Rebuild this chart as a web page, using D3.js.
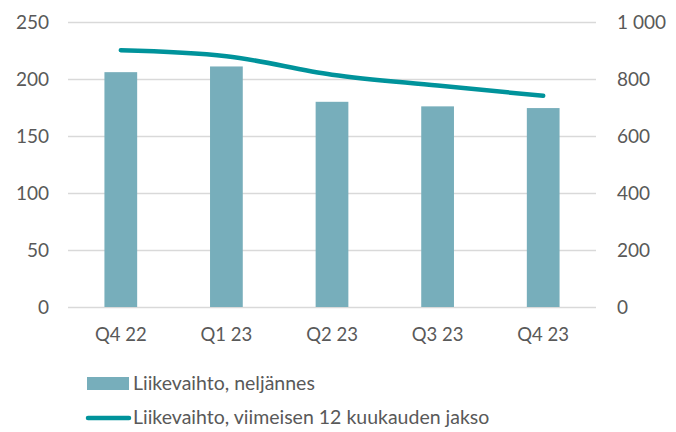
<!DOCTYPE html>
<html>
<head>
<meta charset="utf-8">
<script src="https://cdn.jsdelivr.net/npm/d3@7"></script>
<style>
  body { margin: 0; background: #fff; }
  text { font-family: "Lato", "Noto Sans", sans-serif; fill: #595959; }
</style>
</head>
<body>
<svg id="chart" width="676" height="432"></svg>
<script>
const quarters = ["Q4 22", "Q1 23", "Q2 23", "Q3 23", "Q4 23"];
const quarterly = [206, 211, 180, 176, 174.5];
const rolling12m = [901, 880, 815, 777, 741];
const leftTicks = [0, 50, 100, 150, 200, 250];
const rightTicks = [0, 200, 400, 600, 800, 1000];

const svg = d3.select("#chart");
const margin = { left: 68, right: 80, top: 22, bottom: 125 };
const width = 676, height = 432;

const x = d3.scaleBand()
    .domain(quarters)
    .range([margin.left, width - margin.right])
    .paddingInner(0.69)
    .paddingOuter(0.345);

const yLeft = d3.scaleLinear().domain([0, 250]).range([height - margin.bottom, margin.top]);
const yRight = d3.scaleLinear().domain([0, 1000]).range([height - margin.bottom, margin.top]);

// Gridlines
svg.append("g")
    .selectAll("line")
    .data(leftTicks)
    .join("line")
    .attr("x1", margin.left)
    .attr("x2", width - margin.right)
    .attr("y1", d => Math.round(yLeft(d)) + 0.5)
    .attr("y2", d => Math.round(yLeft(d)) + 0.5)
    .style("stroke", "#d9d9d9")
    .style("stroke-width", d => d === 0 ? 1.5 : 1.3);

// Bars
svg.append("g")
    .selectAll("rect")
    .data(quarterly)
    .join("rect")
    .attr("x", (d, i) => x(quarters[i]))
    .attr("y", d => yLeft(d))
    .attr("width", x.bandwidth())
    .attr("height", d => yLeft(0) - yLeft(d))
    .style("fill", "#77aebb");

// Line
const line = d3.line()
    .x((d, i) => x(quarters[i]) + x.bandwidth() / 2)
    .y(d => yRight(d))
    .curve(d3.curveMonotoneX);

svg.append("path")
    .datum(rolling12m)
    .attr("d", line)
    .style("fill", "none")
    .style("stroke", "#00939b")
    .style("stroke-width", 4.5)
    .style("stroke-linecap", "round");

// Left axis labels
svg.append("g")
    .selectAll("text")
    .data(leftTicks)
    .join("text")
    .attr("x", 49)
    .attr("y", d => yLeft(d))
    .attr("dy", "0.35em")
    .attr("text-anchor", "end")
    .style("font-size", "19px")
    .text(d => d);

// Right axis labels
const fmt = d => d >= 1000 ? d3.format(",")(d).replace(",", "\u00a0") : d;
svg.append("g")
    .selectAll("text")
    .data(rightTicks)
    .join("text")
    .attr("x", 617)
    .attr("y", d => yRight(d))
    .attr("dy", "0.35em")
    .attr("text-anchor", "start")
    .style("font-size", "19px")
    .text(fmt);

// X labels
svg.append("g")
    .selectAll("text")
    .data(quarters)
    .join("text")
    .attr("x", d => x(d) + x.bandwidth() / 2)
    .attr("y", 335)
    .attr("dy", "0.35em")
    .attr("text-anchor", "middle")
    .style("font-size", "18.5px")
    .text(d => d);

// Legend
const legend = svg.append("g");
legend.append("rect")
    .attr("x", 87).attr("y", 377)
    .attr("width", 42).attr("height", 13)
    .style("fill", "#77aebb");
legend.append("text")
    .attr("x", 133).attr("y", 383)
    .attr("dy", "0.35em")
    .style("font-size", "19.5px")
    .text("Liikevaihto, neljännes");
legend.append("line")
    .attr("x1", 88).attr("x2", 129)
    .attr("y1", 418).attr("y2", 418)
    .style("stroke", "#00939b")
    .style("stroke-width", 4.5)
    .style("stroke-linecap", "round");
legend.append("text")
    .attr("x", 133).attr("y", 417)
    .attr("dy", "0.35em")
    .style("font-size", "19.5px")
    .text("Liikevaihto, viimeisen 12 kuukauden jakso");
</script>
</body>
</html>
